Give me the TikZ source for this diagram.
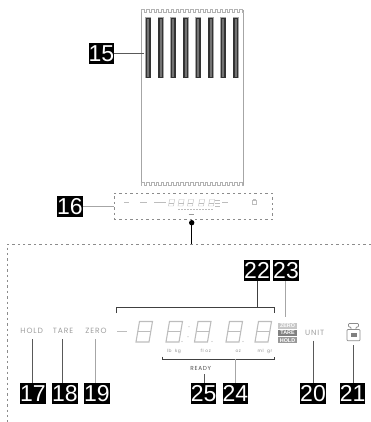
\documentclass[tikz,border=0pt]{standalone}
\usepackage{fontspec}
\setmainfont{Liberation Sans}
\newfontfamily\labfont[LetterSpace=12]{Poppins}
\definecolor{seg}{gray}{0.74}
\tikzset{
 tag/.style={fill=black,text=white,inner sep=0pt,minimum width=24pt,minimum height=21pt,font=\fontsize{23}{23}\selectfont},
 lead/.style={draw=black!65,line width=0.7pt},
 leadl/.style={draw=black!35,line width=0.8pt},
 dashbox/.style={draw=black!45,line width=0.6pt,dash pattern=on 2.4pt off 3pt},
 lab/.style={inner sep=0pt,text=black!38,font=\labfont\fontsize{7.6}{8}\selectfont},
 unitlab/.style={inner sep=0pt,text=black!45,font=\labfont\fontsize{4.4}{5}\selectfont},
 stack/.style={inner sep=0pt,minimum width=19pt,minimum height=6.2pt,font=\fontsize{5.4}{6}\bfseries\selectfont},
}
\newcommand{\digitat}[6]{% x y w h lw color
 \begin{scope}[shift={(#1pt,-#2pt)},x=1pt,y=1pt,xslant=0.17,draw=#6,line width=#5pt]
  \draw (0,0) rectangle (#3,#4);
  \draw (0,#4*0.5) -- (#3,#4*0.5);
 \end{scope}}
\begin{document}
\begin{tikzpicture}[x=1pt,y=-1pt]
\useasboundingbox (0,0) rectangle (371,422);
% receipt
\draw[black!35,line width=0.6pt] (141.5,10) -- (141.5,186) (243.7,10) -- (243.7,186);
\foreach \yy in {12.5,185.5}{
 \draw[black!30,line width=0.45pt] (141.5,\yy) \foreach \k in {0,...,20}{ -- ++(0,-3) -- ++(2.45,0) -- ++(0,3) -- ++(2.45,0)};
}
\foreach \k in {0,...,7}{
 \pgfmathsetmacro\xx{148.3+12.5*\k}
 \fill[black!35] (\xx-3,17) rectangle (\xx+3,78);
 \fill[black!80] (\xx-2.6,18) rectangle (\xx+2.6,78);
 \fill[black!55] (\xx-0.9,19) rectangle (\xx+0.9,77);
}
\node[tag] (t15) at (101.5,53.5) {15};
\coordinate (e15) at (144,53);
\draw[lead] (t15.east |- e15) -- (e15);
% small display
\node[dashbox,minimum width=158pt,minimum height=26.5pt,inner sep=0pt] (disp) at (193,206.5) {};
\node[tag] (t16) at (70,206.5) {16};
\draw[leadl] (t16) -- (disp);
\draw[seg,line width=0.4pt] (124,202.5) -- (129,202.5) (140,202.5) -- (147,202.5) (154,202.5) -- (166,202.5) (222,202.5) -- (228,202.5);
\foreach \xx in {168.5,178,187.5,198.5,208.5}{\digitat{\xx}{206}{5}{6.5}{0.45}{seg}}
\draw[seg,line width=0.4pt] (215,200) -- (220,200) (215,203) -- (220,203) (215,206) -- (220,206);
\draw[seg,line width=0.5pt] (252,200.5) rectangle (256,204.5);
\draw[seg,line width=0.4pt] (253,200.5) -- (253,199) -- (255,199) -- (255,200.5);
\draw[seg,line width=0.3pt,dash pattern=on 1.5pt off 1.5pt] (178,209.3) -- (214,209.3);
\draw[black!40,line width=0.4pt] (188.7,214) -- (194,214);
% connector
\fill[black] (191.7,222.7) circle (2.7);
\coordinate (dot) at (191.7,222.7);
\coordinate (top) at (191.7,244);
\draw[black,line width=0.9pt] (dot) -- (top);
\draw[dashbox] (371,244) -- (7.3,244) -- (7.3,422);
% left labels
\node[lab] (hold) at (31.7,331) {HOLD};
\node[lab] (tare) at (63,331) {TARE};
\node[lab] (zero) at (96,331) {ZERO};
\node[tag] (t17) at (33,393.5) {17};
\node[tag] (t18) at (65,393.5) {18};
\node[tag] (t19) at (97,393.5) {19};
\coordinate (a17) at (32.3,339); \coordinate (b17) at (32.3,383);
\coordinate (a18) at (62.3,339); \coordinate (b18) at (62.3,383);
\coordinate (a19) at (95.3,339); \coordinate (b19) at (95.3,383);
\draw[lead] (a17) -- (b17); \draw[lead] (a18) -- (b18); \draw[leadl] (a19) -- (b19);
% top bracket
\node[tag] (t22) at (257,270.5) {22};
\node[tag] (t23) at (286,270.5) {23};
\draw[black!75,line width=0.7pt] (116.3,313) -- (116.3,307.3) -- (274.7,307.3) -- (274.7,313);
\coordinate (b22) at (257.3,307.3);
\draw[black!75,line width=0.8pt] (t22.south -| b22) -- (b22);
\coordinate (b23) at (285.3,316.7);
\draw[leadl] (t23.south -| b23) -- (b23);
% digits
\fill[seg] (117,330.5) rectangle (126.7,332.3);
\foreach \xx in {136,166,194.5,226,255}{\digitat{\xx}{342}{13}{20.5}{1.1}{seg}}
\foreach \p in {182,212,243}{\fill[seg] (\p,341.5) circle (0.6);}
\fill[seg] (189,326.7) circle (0.6) (188,336.7) circle (0.6);
% units
\node[unitlab] at (174,351) {lb\ \ kg};
\node[unitlab] at (205.7,351) {fl oz};
\node[unitlab] at (238.3,351) {oz};
\node[unitlab] at (265,351) {ml\ \ gr};
% lower bracket
\draw[black!75,line width=0.7pt] (162.3,356.5) -- (162.3,359.3) -- (274.7,359.3) -- (274.7,356.5);
\node[inner sep=0pt,text=black!70,font=\labfont\fontsize{5.8}{6}\selectfont] (ready) at (200.7,368.7) {READY};
\node[tag] (t25) at (203.7,393.5) {25};
\node[tag] (t24) at (235.3,393.5) {24};
\coordinate (a25) at (204.3,374); \draw[lead] (a25) -- (a25 |- t25.north);
\coordinate (a24) at (235,359.3); \draw[leadl] (a24) -- (a24 |- t24.north);
% stack
\node[stack,fill=black!22,text=white] (szero) at (287.5,325.8) {ZERO};
\node[stack,fill=black!50,text=white] (stare) at (287.5,333) {TARE};
\node[stack,fill=black!40,text=white] (shold) at (287.5,340.2) {HOLD};
% unit
\node[lab] (unit) at (314.7,333) {UNIT};
\node[tag] (t20) at (313,393.5) {20};
\coordinate (a20) at (313.7,340.7); \draw[lead] (a20) -- (a20 |- t20.north);
% icon
\draw[black!45,line width=0.7pt,rounded corners=0.8pt] (347,329.5) rectangle (360,340.7);
\draw[black!45,line width=0.7pt,rounded corners=0.8pt] (351,329.5) -- (351,327) -- (348.5,327) -- (348.5,323.5) -- (358.5,323.5) -- (358.5,327) -- (356,327) -- (356,329.5);
\fill[black!50] (351,332.5) rectangle (356.5,337);
\node[tag] (t21) at (352.7,393.5) {21};
\coordinate (a21) at (353.3,345); \draw[lead] (a21) -- (a21 |- t21.north);
\end{tikzpicture}
\end{document}
